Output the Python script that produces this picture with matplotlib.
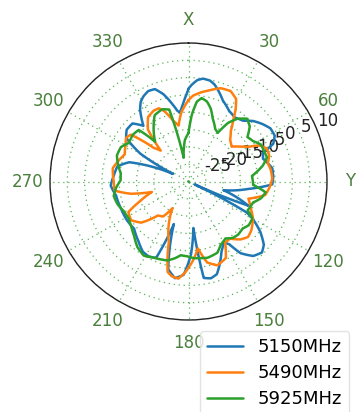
import numpy as np
import matplotlib
matplotlib.use("Agg")
import matplotlib.pyplot as plt

# ---- data (angle in degrees, gain in dB) ----
ang_5150 = [0, 2, 5, 8, 12, 15, 18, 23, 30, 36, 42, 47, 52, 57, 62, 66, 69, 73, 77, 81, 87, 92, 97,
            104, 112, 115, 118, 120, 125, 130, 134, 139, 144, 147, 150, 155, 160, 163, 167, 171,
            174, 178, 183, 188, 193, 199, 203, 208, 213, 220, 229, 238, 248, 259, 267, 275, 282,
            288, 296, 300, 305, 310, 316, 321, 326, 329, 332, 336, 340, 344, 348, 351, 353, 356,
            359, 360]
val_5150 = [-3.2, -2.0, -0.6, 0.0, -0.2, -1.0, -2.3, -4.6, -6.5, -7.2, -6.4, -4.4, -3.0, -1.8,
            -1.8, -3.2, -7.0, -7.5, -6.5, -5.5, -5.5, -5.8, -12.5, -19.6, -11.4, -28.0, -11.0,
            -8.7, -4.7, -1.6, -0.5, -1.5, -4.4, -8.4, -9.8, -7.5, -4.0, -2.0, -1.3, -1.8, -16.5,
            -9.0, -3.0, -1.8, -4.0, -17.0, -6.0, -5.5, -5.8, -7.5, -9.2, -9.0, -9.0, -8.7, -7.5,
            -8.4, -9.0, -12.0, -25.0, -14.0, -8.0, -6.7, -6.7, -9.3, -5.0, -3.2, -2.2, -1.4,
            -1.6, -3.8, -7.0, -9.3, -10.0, -7.5, -4.5, -3.2]

ang_5490 = [0, 3, 8, 12, 19, 25, 30, 33, 36, 40, 45, 51, 56, 60, 63, 67, 72, 77, 82, 88, 94, 100,
            106, 113, 120, 128, 133, 138, 144, 149, 154, 161, 167, 172, 177, 182, 186, 190, 193,
            198, 207, 211, 216, 222, 229, 236, 243, 248, 254, 258, 263, 270, 280, 287, 293, 300,
            305, 309, 314, 318, 322, 328, 334, 338, 341, 346, 350, 354, 360]
val_5490 = [-6.5, -5.2, -4.0, -3.2, -1.5, -1.2, -2.5, -5.0, -8.0, -11.0, -13.0, -14.0, -12.0, -10.0,
            -7.0, -5.5, -5.5, -6.5, -6.0, -5.8, -6.5, -7.5, -12.0, -10.5, -8.5, -7.0, -6.5, -7.5,
            -9.6, -9.5, -5.4, -4.4, -6.0, -10.5, -7.0, -3.8, -1.8, -2.2, -3.2, -11.6, -18.0, -21.0,
            -17.5, -16.8, -11.9, -10.0, -10.5, -15.0, -19.0, -13.0, -8.5, -8.4, -7.8, -9.0, -10.0,
            -9.0, -8.0, -8.5, -16.0, -18.0, -11.0, -8.0, -7.2, -7.2, -8.5, -12.0, -13.6, -10.0, -6.5]

ang_5925 = [0, 3, 6, 9, 13, 17, 21, 27, 31, 34, 38, 43, 48, 53, 58, 63, 68, 73, 78, 85, 93, 98,
            103, 108, 116, 120, 126, 131, 137, 142, 147, 153, 158, 166, 171, 176, 181, 186, 190,
            195, 205, 211, 218, 225, 232, 238, 245, 252, 259, 265, 271, 277, 284, 290, 297, 303,
            310, 316, 320, 326, 333, 340, 345, 348.5, 355, 360]
val_5925 = [-16.0, -10.5, -6.8, -5.6, -6.3, -8.0, -10.5, -13.0, -13.6, -9.6, -7.0, -5.2, -6.2,
            -8.7, -8.0, -6.5, -6.5, -6.3, -8.1, -11.6, -11.3, -7.5, -8.5, -10.4, -11.0, -8.7, -8.5,
            -9.3, -9.0, -9.3, -10.4, -9.5, -7.8, -7.3, -7.6, -7.8, -8.4, -8.6, -7.5, -6.4, -5.8,
            -5.0, -6.0, -7.8, -9.0, -9.7, -9.5, -8.5, -8.0, -9.0, -10.4, -10.3, -9.0, -8.0, -8.1,
            -9.5, -9.0, -9.3, -15.0, -12.0, -8.5, -7.8, -8.5, -23.0, -18.0, -16.0]

series = [("5150MHz", ang_5150, val_5150, "#1f77b4"),
          ("5490MHz", ang_5490, val_5490, "#ff7f0e"),
          ("5925MHz", ang_5925, val_5925, "#2ca02c")]

r_ticks = [-25, -20, -15, -10, -5, 0, 5, 10]
theta_ticks = [0, 30, 60, 90, 120, 150, 180, 210, 240, 270, 300, 330]
theta_labels = ["X", "30", "60", "Y", "120", "150", "180", "210", "240", "270", "300", "330"]

tick_green = "#4a7f3c"

fig = plt.figure(figsize=(3.58, 4.12), dpi=100)
ax = fig.add_axes([50 / 358, 1 - 320 / 412, 277 / 358, 277 / 412], projection="polar")
ax.set_theta_zero_location("N")
ax.set_theta_direction(-1)

for name, a, v, c in series:
    line, = ax.plot(np.deg2rad(a), v, color=c, lw=1.8, label=name,
                    solid_joinstyle="round", solid_capstyle="round")
    line.get_path()._interpolation_steps = 12

ax.set_ylim(-30, 10)
ax.set_yticks(r_ticks)
ax.set_yticklabels([str(t) for t in r_ticks], fontsize=12, color="#222222")
ax.set_rlabel_position(68)
ax.set_xticks(np.deg2rad(theta_ticks))
ax.set_xticklabels(theta_labels, fontsize=12, color=tick_green)
ax.tick_params(axis="x", pad=6)
ax.grid(True, color="#2ca02c", linestyle=(0, (1, 3)), linewidth=0.9, alpha=0.8)
ax.spines["polar"].set_color("#222222")
ax.spines["polar"].set_linewidth(1.0)

leg = fig.legend(loc="upper left", bbox_to_anchor=(200 / 358, 1 - 331 / 412),
                 fontsize=13, frameon=True, handlelength=2.0, borderaxespad=0,
                 labelspacing=0.45, borderpad=0.4)
leg.get_frame().set_edgecolor("#dddddd")

fig.savefig("out.png", dpi=100)
